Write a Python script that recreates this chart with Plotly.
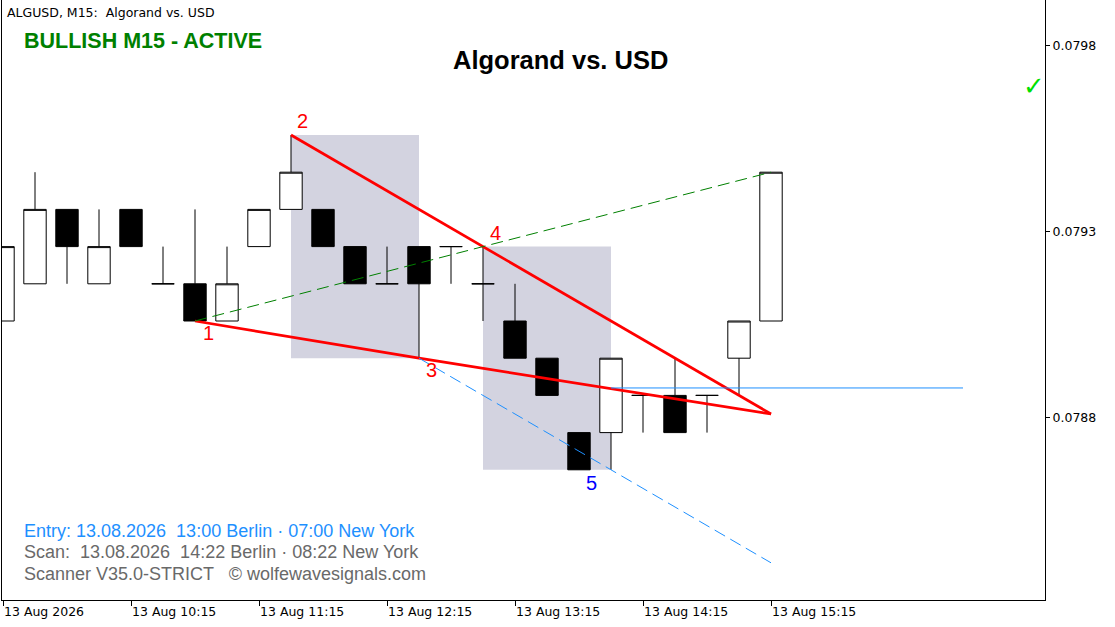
import plotly.graph_objects as go

# ---------------- data ----------------
times = [
    "2026-08-13 09:15", "2026-08-13 09:30", "2026-08-13 09:45", "2026-08-13 10:00",
    "2026-08-13 10:15", "2026-08-13 10:30", "2026-08-13 10:45", "2026-08-13 11:00",
    "2026-08-13 11:15", "2026-08-13 11:30", "2026-08-13 11:45", "2026-08-13 12:00",
    "2026-08-13 12:15", "2026-08-13 12:30", "2026-08-13 12:45", "2026-08-13 13:00",
    "2026-08-13 13:15", "2026-08-13 13:30", "2026-08-13 13:45", "2026-08-13 14:00",
    "2026-08-13 14:15", "2026-08-13 14:30", "2026-08-13 14:45", "2026-08-13 15:00",
    "2026-08-13 15:15",
]
opens = [0.07906, 0.07916, 0.07936, 0.07916, 0.07936, 0.07916, 0.07916, 0.07906,
         0.07926, 0.07936, 0.07936, 0.07926, 0.07916, 0.07926, 0.07926, 0.07916,
         0.07906, 0.07896, 0.07876, 0.07876, 0.07886, 0.07886, 0.07886, 0.07896,
         0.07906]
highs = [0.07926, 0.07946, 0.07936, 0.07936, 0.07936, 0.07926, 0.07936, 0.07926,
         0.07936, 0.07956, 0.07936, 0.07926, 0.07926, 0.07926, 0.07926, 0.07926,
         0.07916, 0.07896, 0.07876, 0.07896, 0.07886, 0.07896, 0.07886, 0.07906,
         0.07946]
lows = [0.07906, 0.07916, 0.07916, 0.07916, 0.07926, 0.07916, 0.07906, 0.07906,
        0.07926, 0.07936, 0.07926, 0.07916, 0.07916, 0.07896, 0.07916, 0.07906,
        0.07896, 0.07886, 0.07866, 0.07866, 0.07876, 0.07876, 0.07876, 0.07886,
        0.07906]
closes = [0.07926, 0.07936, 0.07926, 0.07926, 0.07926, 0.07916, 0.07906, 0.07916,
          0.07936, 0.07946, 0.07926, 0.07916, 0.07916, 0.07916, 0.07926, 0.07916,
          0.07896, 0.07886, 0.07866, 0.07896, 0.07886, 0.07876, 0.07886, 0.07906,
          0.07946]

# Wolfe wave points 1..5
wave_labels = ["1", "2", "3", "4", "5"]
wave_times = ["2026-08-13 10:45", "2026-08-13 11:30", "2026-08-13 12:30",
              "2026-08-13 13:00", "2026-08-13 13:45"]
wave_prices = [0.07906, 0.07956, 0.07896, 0.07926, 0.07866]

# shaded zones: (start, end, low, high)
zone_x0 = ["2026-08-13 11:30", "2026-08-13 13:00"]
zone_x1 = ["2026-08-13 12:30", "2026-08-13 14:00"]
zone_lo = [0.07896, 0.07866]
zone_hi = [0.07956, 0.07926]

end_time = "2026-08-13 15:15"          # projection end
line13_end = 0.07881                   # 1-3 line end
line24_end = 0.07881                   # 2-4 line end
line14_end = 0.07946                   # 1-4 target line end
line35_end = 0.07841                   # 3-5 parallel line end
entry_price = 0.07888
entry_times = ["2026-08-13 14:00", "2026-08-13 16:45"]

xtick_vals = ["2026-08-13 09:15", "2026-08-13 10:15", "2026-08-13 11:15",
              "2026-08-13 12:15", "2026-08-13 13:15", "2026-08-13 14:15",
              "2026-08-13 15:15"]
xtick_text = ["13 Aug 2026", "13 Aug 10:15", "13 Aug 11:15", "13 Aug 12:15",
              "13 Aug 13:15", "13 Aug 14:15", "13 Aug 15:15"]
ytick_vals = [0.0788, 0.0793, 0.0798]
ytick_text = ["0.0788", "0.0793", "0.0798"]

# ---------------- figure ----------------
fig = go.Figure()

fig.add_trace(go.Candlestick(
    x=times, open=opens, high=highs, low=lows, close=closes,
    increasing=dict(line=dict(color="black", width=1), fillcolor="white"),
    decreasing=dict(line=dict(color="black", width=1), fillcolor="black"),
    whiskerwidth=0, showlegend=False, hoverinfo="skip",
))

# red Wolfe lines
fig.add_trace(go.Scatter(x=[wave_times[0], wave_times[2], end_time],
                         y=[wave_prices[0], wave_prices[2], line13_end],
                         mode="lines", line=dict(color="#FF0000", width=2.7),
                         showlegend=False, hoverinfo="skip"))
fig.add_trace(go.Scatter(x=[wave_times[1], wave_times[3], end_time],
                         y=[wave_prices[1], wave_prices[3], line24_end],
                         mode="lines", line=dict(color="#FF0000", width=2.7),
                         showlegend=False, hoverinfo="skip"))
# green 1-4 target line
fig.add_trace(go.Scatter(x=[wave_times[0], wave_times[3], end_time],
                         y=[wave_prices[0], wave_prices[3], line14_end],
                         mode="lines", line=dict(color="#008000", width=1, dash="12px,6px"),
                         showlegend=False, hoverinfo="skip"))
# blue 3-5 parallel
fig.add_trace(go.Scatter(x=[wave_times[2], end_time],
                         y=[wave_prices[2], line35_end],
                         mode="lines", line=dict(color="#1E90FF", width=1, dash="12px,6px"),
                         showlegend=False, hoverinfo="skip"))
# entry line
fig.add_trace(go.Scatter(x=entry_times, y=[entry_price, entry_price],
                         mode="lines", line=dict(color="#1E90FF", width=1),
                         showlegend=False, hoverinfo="skip"))

# shaded zones
zone_fill = "#D3D3E0"
for a, b, lo, hi in zip(zone_x0, zone_x1, zone_lo, zone_hi):
    fig.add_shape(type="rect", xref="x", yref="y", layer="below", line_width=0,
                  fillcolor=zone_fill, x0=a, x1=b, y0=lo, y1=hi)

# wave number labels
shifts = [(13, -12), (11, 14), (12, -12), (12, 14), (12, -13)]
colors = ["#FF0000", "#FF0000", "#FF0000", "#FF0000", "#0000FF"]
for lab, t, p, (dx, dy), c in zip(wave_labels, wave_times, wave_prices, shifts, colors):
    fig.add_annotation(x=t, y=p, text=lab, showarrow=False, xshift=dx, yshift=dy,
                       font=dict(family="Liberation Sans, Arial", size=20, color=c))

# texts
def ann(text, x, y, size, color, family="Liberation Sans, Arial", xanchor="left"):
    fig.add_annotation(xref="paper", yref="paper", x=x, y=y, text=text, showarrow=False,
                       xanchor=xanchor, yanchor="middle",
                       font=dict(family=family, size=size, color=color))

W, H = 1043.0, 600.0
def px(x):
    return (x - 2) / W
def py(y):
    return 1 - y / H

ann("ALGUSD, M15:  Algorand vs. USD", px(5), py(12), 12.5, "black", family="DejaVu Sans")
ann("<b>BULLISH M15 - ACTIVE</b>", px(22), py(41), 21.5, "#008000")
ann("<b>Algorand vs. USD</b>", px(560), py(60), 25.5, "black", xanchor="center")
ann("✓", px(1034), py(86), 26, "#00E000", family="DejaVu Sans", xanchor="center")
ann("Entry: 13.08.2026  13:00 Berlin · 07:00 New York", px(22), py(531), 18, "#1E90FF")
ann("Scan:  13.08.2026  14:22 Berlin · 08:22 New York", px(22), py(552), 18, "#696969")
ann("Scanner V35.0-STRICT   © wolfewavesignals.com", px(22), py(574), 18, "#696969")

fig.update_layout(
    width=1115, height=627,
    margin=dict(l=2, r=70, t=0, b=27),
    paper_bgcolor="white", plot_bgcolor="white",
    showlegend=False,
    boxgap=0.3, boxgroupgap=0,
    xaxis=dict(
        type="date",
        range=["2026-08-13 09:14:32", "2026-08-13 17:23:26"],
        rangeslider=dict(visible=False),
        tickvals=xtick_vals, ticktext=xtick_text,
        ticks="outside", ticklen=5, tickcolor="black",
        ticklabelposition="outside right",
        tickfont=dict(family="DejaVu Sans", size=12.5, color="black"),
        showgrid=False, zeroline=False,
        showline=True, linecolor="black", linewidth=1, mirror=True,
    ),
    yaxis=dict(
        side="right",
        range=[0.07831, 0.0799229],
        tickvals=ytick_vals, ticktext=ytick_text,
        ticks="outside", ticklen=4, tickcolor="black",
        tickfont=dict(family="DejaVu Sans", size=12.5, color="black"),
        showgrid=False, zeroline=False,
        showline=True, linecolor="black", linewidth=1, mirror=True,
    ),
)

fig.write_html("out.html", config=dict(displayModeBar=False),
               post_script="document.body.style.margin='0px';document.body.style.overflow='hidden';")
